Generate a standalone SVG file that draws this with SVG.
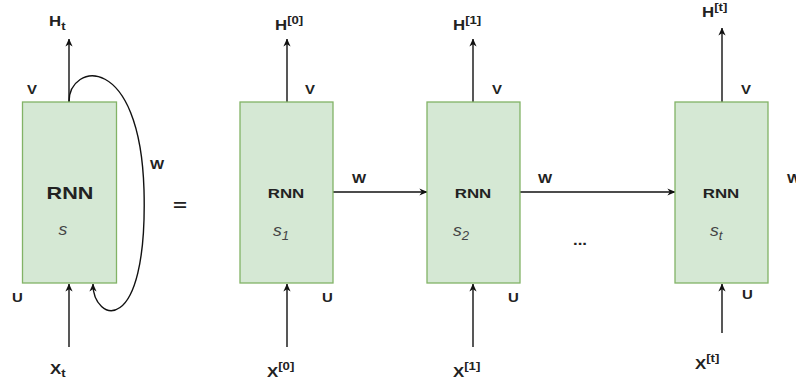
<svg xmlns="http://www.w3.org/2000/svg" width="796" height="381" viewBox="0 0 796 381">
<defs>
<style>
.box{fill:#d5e8d4;stroke:#82b366;stroke-width:1.3}
.ln{fill:none;stroke:#111;stroke-width:1.4}
.t{font-family:"Liberation Sans",Arial,sans-serif;font-weight:bold;fill:#222}
.lbl{font-size:13px}
.big{font-size:14px}
.sup{font-size:11px}
.rnn1{font-size:16px}
.rnn{font-size:13px}
.s{font-family:"Liberation Sans",Arial,sans-serif;font-style:italic;fill:#444;font-size:16px}
.ss{font-size:12px}
</style>
<marker id="arr" viewBox="0 0 10 10" refX="9.5" refY="5" markerWidth="8" markerHeight="8" markerUnits="userSpaceOnUse" orient="auto">
<path d="M0,0.5 L10,5 L0,9.5 L3,5 z" fill="#111"/>
</marker>
</defs>
<rect width="796" height="381" fill="#fff"/>

<g id="connectors">
<line class="ln" x1="69" y1="102" x2="69" y2="39" marker-end="url(#arr)"/>
<line class="ln" x1="69" y1="347" x2="69" y2="284" marker-end="url(#arr)"/>
<path class="ln" d="M69,102 C69,62 140,52 144,190 C148,340 93,322 93,284" marker-end="url(#arr)"/>
<line class="ln" x1="287" y1="102" x2="287" y2="39" marker-end="url(#arr)"/>
<line class="ln" x1="287" y1="347" x2="287" y2="284" marker-end="url(#arr)"/>
<line class="ln" x1="473" y1="102" x2="473" y2="39" marker-end="url(#arr)"/>
<line class="ln" x1="473" y1="347" x2="473" y2="284" marker-end="url(#arr)"/>
<line class="ln" x1="722" y1="102" x2="722" y2="28" marker-end="url(#arr)"/>
<line class="ln" x1="722" y1="333" x2="722" y2="284" marker-end="url(#arr)"/>
<line class="ln" x1="333" y1="192" x2="427" y2="192" marker-end="url(#arr)"/>
<line class="ln" x1="520" y1="192" x2="675" y2="192" marker-end="url(#arr)"/>
</g>

<g id="node-rnn">
<rect class="box" x="22.5" y="102" width="94" height="181"/>
<text class="t rnn1" text-anchor="middle" transform="translate(70,199) scale(1.35,1)">RNN</text>
<text class="s" text-anchor="middle" transform="translate(63,235) scale(1.1,1)">s</text>
</g>
<g id="node-rnn1">
<rect class="box" x="240" y="102" width="93" height="181"/>
<text class="t rnn" text-anchor="middle" transform="translate(286,198) scale(1.3,1)">RNN</text>
<text class="s" transform="translate(273,236) scale(1.1,1)">s<tspan class="ss" dy="4">1</tspan></text>
</g>
<g id="node-rnn2">
<rect class="box" x="427" y="102" width="93" height="181"/>
<text class="t rnn" text-anchor="middle" transform="translate(473,198) scale(1.3,1)">RNN</text>
<text class="s" transform="translate(453,236) scale(1.1,1)">s<tspan class="ss" dy="4">2</tspan></text>
</g>
<g id="node-rnnt">
<rect class="box" x="675" y="102" width="93" height="181"/>
<text class="t rnn" text-anchor="middle" transform="translate(721,198) scale(1.3,1)">RNN</text>
<text class="s" transform="translate(710,236) scale(1.1,1)">s<tspan class="ss" dy="4">t</tspan></text>
</g>

<g id="labels">
<text class="t big" transform="translate(49,26) scale(1.2,1)">H<tspan class="sup" dy="4">t</tspan></text>
<text class="t big" transform="translate(275,30) scale(1.2,1)">H<tspan class="sup" dy="-6">[0]</tspan></text>
<text class="t big" transform="translate(453,30) scale(1.2,1)">H<tspan class="sup" dy="-6">[1]</tspan></text>
<text class="t big" transform="translate(702,17) scale(1.2,1)">H<tspan class="sup" dy="-6">[t]</tspan></text>

<text class="t big" transform="translate(50,374) scale(1.2,1)">X<tspan class="sup" dy="3">t</tspan></text>
<text class="t big" transform="translate(267,377) scale(1.2,1)">X<tspan class="sup" dy="-7">[0]</tspan></text>
<text class="t big" transform="translate(453,377) scale(1.2,1)">X<tspan class="sup" dy="-7">[1]</tspan></text>
<text class="t big" transform="translate(695,369) scale(1.2,1)">X<tspan class="sup" dy="-7">[t]</tspan></text>

<text class="t lbl" transform="translate(27,94) scale(1.15,1)">V</text>
<text class="t lbl" transform="translate(305,94) scale(1.15,1)">V</text>
<text class="t lbl" transform="translate(492,94) scale(1.15,1)">V</text>
<text class="t lbl" transform="translate(741,94) scale(1.15,1)">V</text>

<text class="t lbl" transform="translate(12,302) scale(1.15,1)">U</text>
<text class="t lbl" transform="translate(322,302) scale(1.15,1)">U</text>
<text class="t lbl" transform="translate(508,302) scale(1.15,1)">U</text>
<text class="t lbl" transform="translate(742,299) scale(1.15,1)">U</text>

<text class="t lbl" transform="translate(150,169) scale(1.15,1)">W</text>
<text class="t lbl" transform="translate(352,183) scale(1.15,1)">W</text>
<text class="t lbl" transform="translate(538,183) scale(1.15,1)">W</text>
<text class="t lbl" transform="translate(787,183) scale(1.15,1)">W</text>

<text class="t" font-size="16" text-anchor="middle" transform="translate(180,211) scale(1.5,1)">=</text>
<text class="t" font-size="14" font-weight="normal" transform="translate(573,245) scale(1.2,1)">...</text>
</g>
</svg>
